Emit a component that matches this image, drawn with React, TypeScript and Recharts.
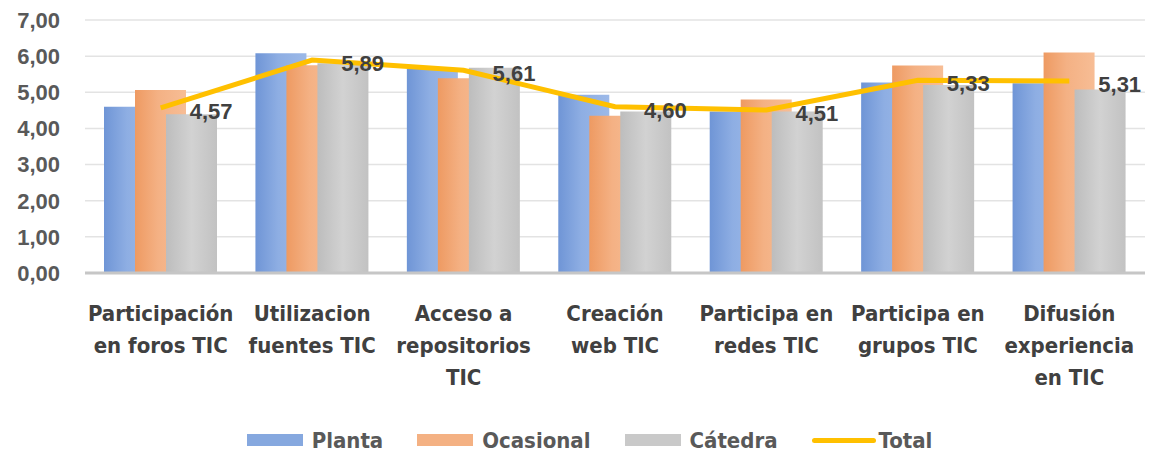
import React from "react";
import {
  Bar,
  CartesianGrid,
  ComposedChart,
  LabelList,
  Legend,
  Line,
  XAxis,
  YAxis,
} from "recharts";

const categories = [
  "Participación\nen foros TIC",
  "Utilizacion\nfuentes TIC",
  "Acceso a\nrepositorios\nTIC",
  "Creación\nweb TIC",
  "Participa en\nredes TIC",
  "Participa en\ngrupos TIC",
  "Difusión\nexperiencia\nen TIC",
];
const planta = [4.6, 6.08, 5.66, 4.93, 4.47, 5.27, 5.25];
const ocasional = [5.06, 5.75, 5.39, 4.35, 4.8, 5.74, 6.1];
const catedra = [4.39, 5.8, 5.68, 4.47, 4.47, 5.2, 5.08];
const total = [4.57, 5.89, 5.61, 4.6, 4.51, 5.33, 5.31];
const yTicks = [0, 1, 2, 3, 4, 5, 6, 7];

const seriesNames = ["Planta", "Ocasional", "Cátedra", "Total"];
const seriesColors = ["#86a8df", "#f4b183", "#c9c9c9", "#ffc000"];

const data = categories.map((name, i) => ({
  name,
  planta: planta[i],
  ocasional: ocasional[i],
  catedra: catedra[i],
  total: total[i],
}));

const NARROW = '"DejaVu Sans Condensed", "Liberation Sans", sans-serif';
const NUM = '"Liberation Sans", Arial, sans-serif';
const fmt = (v: number) => v.toFixed(2).replace(".", ",");

function CategoryTick({ x, y, payload }: any) {
  const lines = String(payload.value).split("\n");
  return (
    <text
      x={x}
      y={y}
      textAnchor="middle"
      fill="#404040"
      fontFamily={NARROW}
      fontWeight="bold"
      fontSize={22}
    >
      {lines.map((l, i) => (
        <tspan key={i} x={x} y={y + 48 + i * 32}>
          {l}
        </tspan>
      ))}
    </text>
  );
}

function TotalLabel({ x, y, value }: any) {
  return (
    <text
      x={x + 29}
      y={y + 11}
      fill="#404040"
      fontFamily={NUM}
      fontWeight="bold"
      fontSize={22}
    >
      {fmt(value)}
    </text>
  );
}

function LegendBox() {
  return (
    <div
      style={{
        height: 26,
        display: "flex",
        justifyContent: "center",
        alignItems: "center",
        paddingLeft: 34,
        fontFamily: NARROW,
        fontWeight: "bold",
        fontSize: 22,
        color: "#595959",
      }}
    >
      {seriesNames.map((n, i) => (
        <div key={n} style={{ display: "flex", alignItems: "center", marginRight: i === 3 ? 0 : 34 }}>
          <div
            style={{
              width: i === 3 ? 64 : 56,
              height: i === 3 ? 5 : 12,
              borderRadius: i === 3 ? 3 : 0,
              background: seriesColors[i],
              marginRight: i === 3 ? 3 : 9,
            }}
          />
          <span>{n}</span>
        </div>
      ))}
    </div>
  );
}

export default function App() {
  return (
    <div style={{ position: "absolute", left: 0, top: 0, width: 1150, height: 453, background: "#fff" }}>
      <ComposedChart
        width={1150}
        height={453}
        data={data}
        margin={{ top: 20, right: 5, bottom: 0, left: 0 }}
        barGap={-20}
      >
        <defs>
          <linearGradient id="gPlanta" x1="0" y1="0" x2="1" y2="0">
            <stop offset="0" stopColor="#6f95d6" />
            <stop offset="0.45" stopColor="#8eaee3" />
            <stop offset="1" stopColor="#9cb9e8" />
          </linearGradient>
          <linearGradient id="gOcasional" x1="0" y1="0" x2="1" y2="0">
            <stop offset="0" stopColor="#ee9a62" />
            <stop offset="0.45" stopColor="#f4b184" />
            <stop offset="1" stopColor="#f7bd95" />
          </linearGradient>
          <linearGradient id="gCatedra" x1="0" y1="0" x2="1" y2="0">
            <stop offset="0" stopColor="#bdbdbd" />
            <stop offset="0.5" stopColor="#d2d2d2" />
            <stop offset="1" stopColor="#c2c2c2" />
          </linearGradient>
        </defs>
        <CartesianGrid vertical={false} stroke="#e3e3e3" strokeWidth={1.5} />
        <XAxis
          dataKey="name"
          interval={0}
          height={154}
          tickSize={0}
          tickMargin={0}
          tickLine={false}
          axisLine={{ stroke: "#c6c6c6", strokeWidth: 3 }}
          tick={<CategoryTick />}
        />
        <YAxis
          width={85}
          domain={[0, 7]}
          ticks={yTicks}
          interval={0}
          tickSize={0}
          tickMargin={25}
          axisLine={false}
          tickLine={false}
          tickFormatter={fmt}
          tick={{ fill: "#595959", fontFamily: NUM, fontWeight: "bold", fontSize: 22 }}
        />
        <Bar dataKey="planta" name="Planta" barSize={51} fill="url(#gPlanta)" isAnimationActive={false} />
        <Bar dataKey="ocasional" name="Ocasional" barSize={51} fill="url(#gOcasional)" isAnimationActive={false} />
        <Bar dataKey="catedra" name="Cátedra" barSize={51} fill="url(#gCatedra)" isAnimationActive={false} />
        <Line
          dataKey="total"
          name="Total"
          type="linear"
          stroke="#ffc000"
          strokeWidth={5}
          dot={false}
          activeDot={false}
          isAnimationActive={false}
        >
          <LabelList dataKey="total" content={<TotalLabel />} />
        </Line>
        <Legend verticalAlign="bottom" content={<LegendBox />} />
      </ComposedChart>
    </div>
  );
}
